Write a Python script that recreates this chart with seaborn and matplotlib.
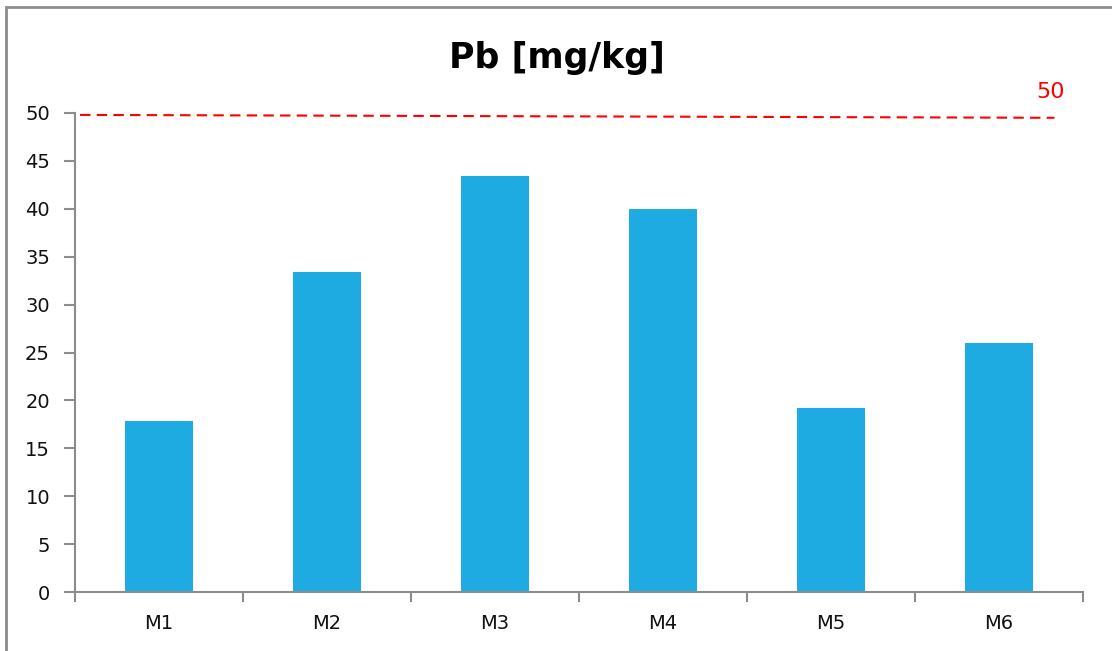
import matplotlib
matplotlib.use("Agg")
import matplotlib.pyplot as plt
import seaborn as sns
import pandas as pd
from matplotlib.patches import Rectangle

categories = ["M1", "M2", "M3", "M4", "M5", "M6"]
values = [17.9, 33.4, 43.4, 40.0, 19.2, 26.0]
limit_value = 50
limit_label = "50"
y_ticks = [0, 5, 10, 15, 20, 25, 30, 35, 40, 45, 50]
title = "Pb [mg/kg]"

sns.set_theme(style="white")
plt.rcParams['font.family'] = ['DejaVu Sans']

df = pd.DataFrame({"cat": categories, "val": values})

fig = plt.figure(figsize=(11.12, 6.51), dpi=100)
ax = fig.add_axes([75/1112, 1-592/651, (1083-75)/1112, (592-113)/651])

sns.barplot(data=df, x="cat", y="val", color="#1EABE2", width=0.4,
            saturation=1, ax=ax, edgecolor="none")

ax.set_xlim(-0.5, len(categories) - 0.5)
ax.set_ylim(0, 50)
ax.set_yticks(y_ticks)
ax.set_yticklabels([str(t) for t in y_ticks], fontsize=14, color="#111111")
ax.set_xticks(range(len(categories)))
ax.set_xticklabels(categories, fontsize=14, color="#111111")
ax.set_xlabel("")
ax.set_ylabel("")

# x ticks at category boundaries
ax.tick_params(axis="x", which="major", bottom=True, length=0, pad=16)
ax.set_xticks([i - 0.5 for i in range(len(categories) + 1)], minor=True)
ax.tick_params(axis="x", which="minor", bottom=True, length=7, width=1.5,
               color="#8c8c8c", direction="out")
ax.tick_params(axis="y", which="major", left=True, length=8, width=1.5,
               color="#8c8c8c", direction="out", pad=10)

for s in ["top", "right"]:
    ax.spines[s].set_visible(False)
for s in ["left", "bottom"]:
    ax.spines[s].set_color("#8c8c8c")
    ax.spines[s].set_linewidth(1.5)

# limit line (slightly sloped as in the reference)
ax.plot([-0.47, 5.33], [limit_value - 0.2, limit_value - 0.5], color="red",
        linestyle=(0, (5, 3)), linewidth=1.5, clip_on=False)
ax.text(5.39, limit_value + 1.1, limit_label, color="red", fontsize=16,
        ha="right", va="bottom")

fig.text(557/1112, 1-58/651, title, ha="center", va="center",
         fontsize=25, fontweight="bold", color="black")

# outer border (visible on top and left)
fig.patches.append(Rectangle((6/1112, -0.1), 1.2, 1 - 7/651 + 0.1,
                             transform=fig.transFigure, fill=False,
                             edgecolor="#8c8c8c", linewidth=2))

fig.savefig("out.png", dpi=100)
